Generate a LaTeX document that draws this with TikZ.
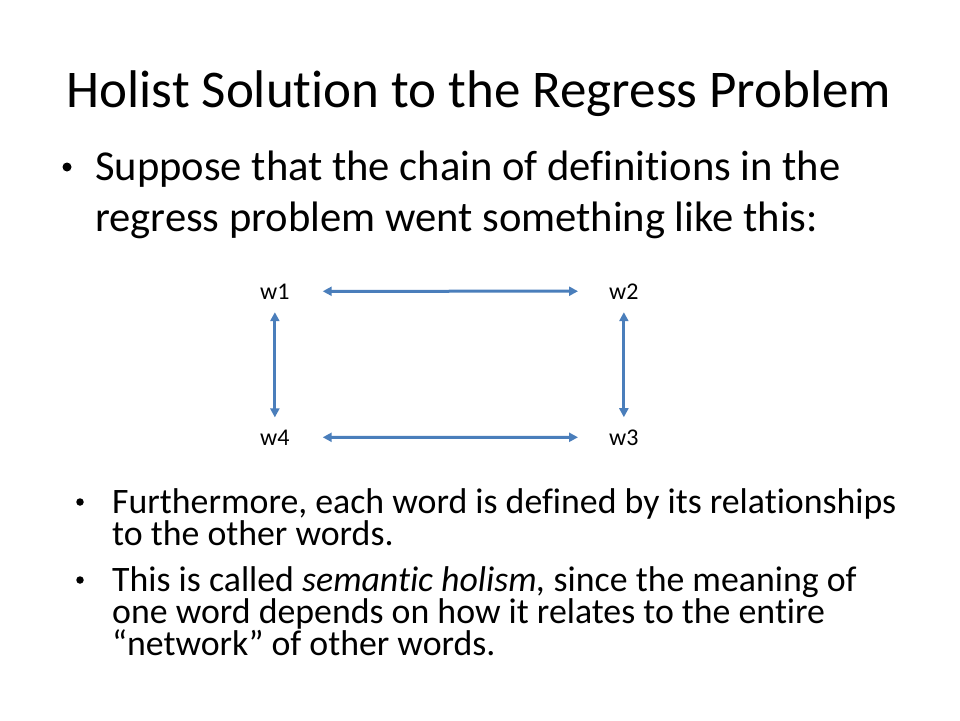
\documentclass[tikz,border=0pt]{standalone}
\usepackage{fontspec}
\setmainfont{Carlito}[Ligatures=NoCommon]
\usetikzlibrary{arrows.meta}
\definecolor{arrowblue}{HTML}{4A7EBB}
\tikzset{
  txt/.style={anchor=base west, inner sep=0pt, text=black},
  titletxt/.style={anchor=base, inner sep=0pt, font=\fontsize{53}{60}\selectfont},
  bigtxt/.style={txt, font=\fontsize{42.6}{48}\selectfont},
  smalltxt/.style={txt, font=\fontsize{35.8}{40}\selectfont},
  word/.style={txt, font=\fontsize{24}{28}\selectfont},
  bigdot/.style={circle, fill=black, inner sep=0pt, minimum size=9pt},
  smalldot/.style={circle, fill=black, inner sep=0pt, minimum size=7.5pt},
  link/.style={draw=arrowblue, line width=3pt, {Triangle[width=9pt,length=9pt]}-{Triangle[width=9pt,length=9pt]}}
}
\begin{document}
\begin{tikzpicture}[x=1pt,y=-1pt]
\fill[white] (0,0) rectangle (960,720);
\useasboundingbox (0,0) rectangle (960,720);
\node[titletxt] (title) at (479,107) {Holist Solution to the Regress Problem};
\node[bigdot] (b1) at (67,167) {};
\node[bigtxt] (l1) at (95,180) {Suppose that the chain of definitions in the};
\node[bigtxt] (l2) at (95,231) {regress problem went something like this:};
\node[word] (w1) at (260,299) {w1};
\node[word] (w2) at (609,299) {w2};
\node[word] (w4) at (260,445) {w4};
\node[word] (w3) at (609,445) {w3};
\draw[link, shorten <=33pt, shorten >=31pt] (w1.east) -- (w2.west);
\draw[link, shorten <=33pt, shorten >=31pt] (w4.east) -- (w3.west);
\draw[link, shorten <=13pt, shorten >=12pt] (w1.south) -- (w4.north);
\draw[link, shorten <=13pt, shorten >=12pt] (w2.south) -- (w3.north);
\node[smalldot] (b2) at (80,502) {};
\node[smalltxt] (m1) at (112,513) {Furthermore, each word is defined by its relationships};
\node[smalltxt] (m2) at (112,545) {to the other words.};
\node[smalldot] (b3) at (80,580) {};
\node[smalltxt] (m3) at (112,591) {This is called \textit{semantic holism,} since the meaning of};
\node[smalltxt] (m4) at (112,623) {one word depends on how it relates to the entire};
\node[smalltxt] (m5) at (112,655) {“network” of other words.};
\end{tikzpicture}
\end{document}
